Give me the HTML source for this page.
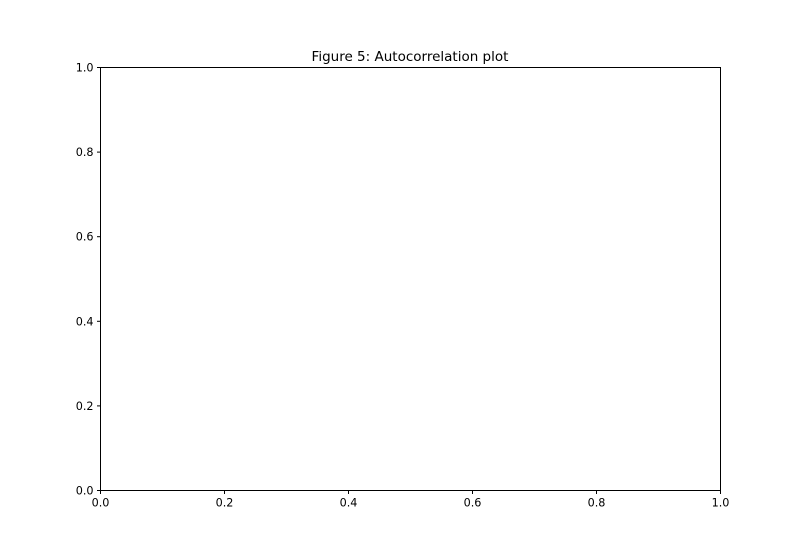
<!DOCTYPE html>
<html>
<head>
<meta charset="utf-8">
<style>
  html, body { margin: 0; padding: 0; background: #fff; }
  svg { display: block; }
  text { font-family: "DejaVu Sans", "Liberation Sans", sans-serif; fill: #000; }
</style>
</head>
<body>
<svg id="chart" width="800" height="560" viewBox="0 0 800 560">
  <rect x="0" y="0" width="800" height="560" fill="#fff"></rect>
  <text x="410" y="61" text-anchor="middle" font-size="13.5">Figure 5: Autocorrelation plot</text>
  <rect x="100.5" y="67.5" width="620" height="423" fill="none" stroke="#000" stroke-width="1"></rect>
  <g id="xticks"></g>
  <g id="yticks"></g>
</svg>
<script>
const xTickValues = [0, 0.2, 0.4, 0.6, 0.8, 1.0];
const yTickValues = [0, 0.2, 0.4, 0.6, 0.8, 1.0];
const xTickLabels = ["0.0", "0.2", "0.4", "0.6", "0.8", "1.0"];
const yTickLabels = ["0.0", "0.2", "0.4", "0.6", "0.8", "1.0"];

const SVGNS = "http://www.w3.org/2000/svg";
const plotLeft = 100.5, plotRight = 720.5, plotTop = 67.5, plotBottom = 490.5;
const xDomain = [0, 1], yDomain = [0, 1];
function xScale(v) { return plotLeft + (v - xDomain[0]) / (xDomain[1] - xDomain[0]) * (plotRight - plotLeft); }
function yScale(v) { return plotBottom - (v - yDomain[0]) / (yDomain[1] - yDomain[0]) * (plotBottom - plotTop); }

const xg = document.getElementById("xticks");
xTickValues.forEach(function (v, i) {
  const x = xScale(v);
  const l = document.createElementNS(SVGNS, "line");
  l.setAttribute("x1", x); l.setAttribute("x2", x);
  l.setAttribute("y1", plotBottom); l.setAttribute("y2", plotBottom + 3.5);
  l.setAttribute("stroke", "#000");
  
  
  xg.appendChild(l);
  const t = document.createElementNS(SVGNS, "text");
  t.setAttribute("x", x); t.setAttribute("y", plotBottom + 16);
  t.setAttribute("text-anchor", "middle");
  t.setAttribute("font-size", "11.2");
  t.textContent = xTickLabels[i];
  
  
  xg.appendChild(t);
});

const yg = document.getElementById("yticks");
yTickValues.forEach(function (v, i) {
  const y = yScale(v);
  const l = document.createElementNS(SVGNS, "line");
  l.setAttribute("x1", plotLeft - 3.5); l.setAttribute("x2", plotLeft);
  l.setAttribute("y1", y); l.setAttribute("y2", y);
  l.setAttribute("stroke", "#000");
  
  
  yg.appendChild(l);
  const t = document.createElementNS(SVGNS, "text");
  t.setAttribute("x", plotLeft - 7); t.setAttribute("y", y + 4);
  t.setAttribute("text-anchor", "end");
  t.setAttribute("font-size", "11.2");
  t.textContent = yTickLabels[i];
  
  
  yg.appendChild(t);
});
</script>
</body>
</html>
